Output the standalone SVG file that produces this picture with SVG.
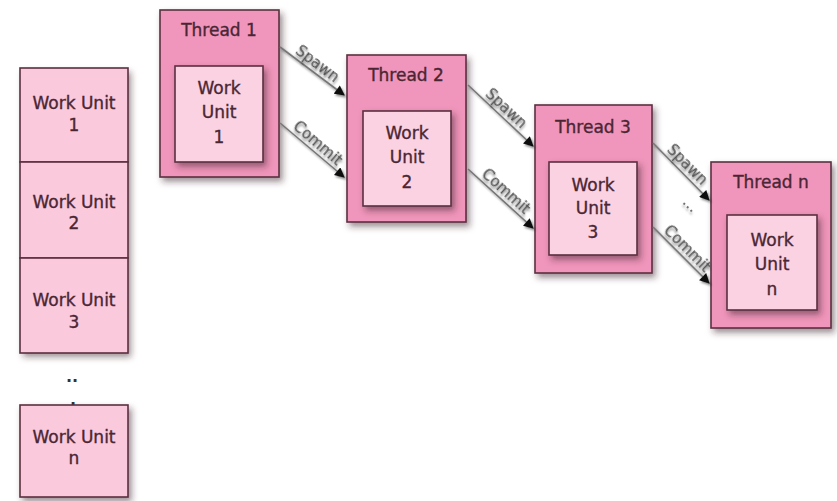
<svg xmlns="http://www.w3.org/2000/svg" width="837" height="501" viewBox="0 0 837 501">
<defs>
<filter id="sh" x="-20%" y="-20%" width="150%" height="150%">
<feDropShadow dx="3" dy="4" stdDeviation="3" flood-color="#3a1a26" flood-opacity="0.5"/>
</filter>
<filter id="lsh" x="-20%" y="-50%" width="150%" height="200%">
<feDropShadow dx="1.5" dy="2" stdDeviation="1" flood-color="#000" flood-opacity="0.45"/>
</filter>
<marker id="ah" viewBox="0 0 10 10" refX="9" refY="5" markerWidth="11" markerHeight="10" markerUnits="userSpaceOnUse" orient="auto">
<path d="M0,0 L10,5 L0,10 z" fill="#111"/>
</marker>
<style>
.thread{fill:#f095bb;stroke:#5a3040;stroke-width:1.6;filter:url(#sh)}
.inner{fill:#fad2e2;stroke:#5a3040;stroke-width:1.6;filter:url(#sh)}
.cell{fill:#fbc9dc;stroke:#5a3040;stroke-width:1.6}
.t{font-family:"DejaVu Sans",Verdana,sans-serif;font-size:17px;fill:#4a2634;stroke:#4a2634;stroke-width:0.35;text-anchor:middle}
.lbl{font-family:"DejaVu Sans",Verdana,sans-serif;font-size:15px;fill:#555;stroke:#555;stroke-width:0.2;text-anchor:middle;filter:url(#lsh)}
.dot{font-family:"DejaVu Sans",Verdana,sans-serif;font-size:16px;font-weight:bold;fill:#333;text-anchor:middle}
.conn{stroke:#777;stroke-width:1.6;fill:none;marker-end:url(#ah);filter:url(#lsh)}
</style>
</defs>

<g id="stack">
<rect x="20" y="68" width="108" height="285" fill="#fbc9dc" filter="url(#sh)"/>
<g id="wu1"><rect class="cell" x="20" y="68" width="108" height="94"/>
<text class="t" x="74" y="109">Work Unit</text><text class="t" x="74" y="131">1</text></g>
<g id="wu2"><rect class="cell" x="20" y="162" width="108" height="96"/>
<text class="t" x="74" y="208">Work Unit</text><text class="t" x="74" y="229">2</text></g>
<g id="wu3"><rect class="cell" x="20" y="258" width="108" height="95"/>
<text class="t" x="74" y="306">Work Unit</text><text class="t" x="74" y="328">3</text></g>
<text class="dot" x="72" y="382">..</text>
<text class="dot" x="73" y="405">.</text>
<g id="wun"><rect class="cell" x="20" y="405" width="108" height="92" filter="url(#sh)"/>
<text class="t" x="74" y="443">Work Unit</text><text class="t" x="74" y="464">n</text></g>
</g>

<g id="thread1">
<rect class="thread" x="160" y="10" width="119" height="167"/>
<text class="t" x="219" y="36">Thread 1</text>
<rect class="inner" x="175" y="66" width="88" height="96"/>
<text class="t" x="219" y="94">Work</text><text class="t" x="219" y="118">Unit</text><text class="t" x="219" y="143">1</text>
</g>

<g id="thread2">
<rect class="thread" x="347" y="55" width="119" height="167"/>
<text class="t" x="406" y="81">Thread 2</text>
<rect class="inner" x="363" y="111" width="88" height="95"/>
<text class="t" x="407" y="139">Work</text><text class="t" x="407" y="163">Unit</text><text class="t" x="407" y="188">2</text>
</g>

<g id="thread3">
<rect class="thread" x="535" y="105" width="117" height="168"/>
<text class="t" x="593" y="133">Thread 3</text>
<rect class="inner" x="549" y="162" width="88" height="93"/>
<text class="t" x="593" y="191">Work</text><text class="t" x="593" y="214">Unit</text><text class="t" x="593" y="238">3</text>
</g>

<g id="threadn">
<rect class="thread" x="711" y="162" width="120" height="166"/>
<text class="t" x="771" y="188">Thread n</text>
<rect class="inner" x="727" y="215" width="90" height="95"/>
<text class="t" x="772" y="246">Work</text><text class="t" x="772" y="270">Unit</text><text class="t" x="772" y="295">n</text>
</g>

<g id="connectors">
<line class="conn" x1="280" y1="47" x2="344" y2="95"/>
<line class="conn" x1="280" y1="123" x2="344" y2="177"/>
<line class="conn" x1="468" y1="85" x2="533" y2="146"/>
<line class="conn" x1="468" y1="169" x2="533" y2="228"/>
<line class="conn" x1="653" y1="143" x2="709" y2="200"/>
<line class="conn" x1="653" y1="227" x2="709" y2="283"/>
<g transform="translate(312,71) rotate(37)"><text class="lbl" x="0" y="-4">Spawn</text></g>
<g transform="translate(312,150) rotate(40.6)"><text class="lbl" x="0" y="-4">Commit</text></g>
<g transform="translate(500,115) rotate(43)"><text class="lbl" x="0" y="-4">Spawn</text></g>
<g transform="translate(500,198) rotate(42)"><text class="lbl" x="0" y="-4">Commit</text></g>
<g transform="translate(681,171) rotate(45)"><text class="lbl" x="0" y="-4">Spawn</text></g>
<g transform="translate(681,255) rotate(45)"><text class="lbl" x="0" y="-4">Commit</text></g>
<g transform="translate(687,208) rotate(45)"><text class="lbl" x="0" y="0">...</text></g>
</g>
</svg>
